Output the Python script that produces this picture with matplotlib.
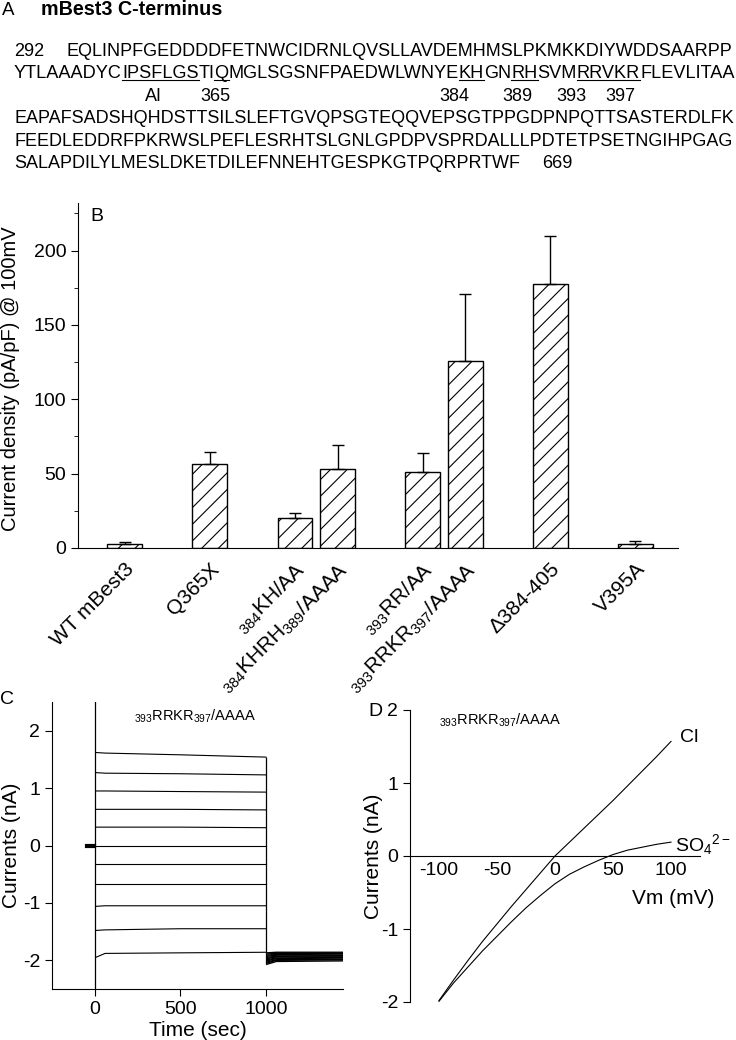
import matplotlib
matplotlib.use('Agg')
import matplotlib.pyplot as plt
from matplotlib.lines import Line2D
from matplotlib.ticker import MultipleLocator

plt.rcParams['font.family'] = ['Liberation Sans', 'DejaVu Sans']
plt.rcParams['mathtext.fontset'] = 'custom'
plt.rcParams['mathtext.rm'] = 'Liberation Sans'
plt.rcParams['mathtext.it'] = 'Liberation Sans:italic'
plt.rcParams['mathtext.default'] = 'regular'
plt.rcParams['axes.unicode_minus'] = False
plt.rcParams['hatch.linewidth'] = 0.8

# ---- panel A: sequence text
seq_title = "mBest3 C-terminus"
seq_first = "EQLINPFGEDDDDFETNWCIDRNLQVSLLAVDEMHMSLPKMKKDIYWDDSAARPP"
seq_second = [("YTLAAADYC", False), ("IPSFLGS", True), ("TI", False), ("Q", True),
              ("MGLSGSNFPAEDWLWNYE", False), ("KH", True), ("GN", False), ("RH", True),
              ("SVM", False), ("RRVKR", True), ("FLEVLITAA", False)]
site_labels = ["AI", "365", "384", "389", "393", "397"]
seq_rest = ["EAPAFSADSHQHDSTTSILSLEFTGVQPSGTEQQVEPSGTPPGDPNPQTTSASTERDLFK",
            "FEEDLEDDRFPKRWSLPEFLESRHTSLGNLGPDPVSPRDALLLPDTETPSETNGIHPGAG",
            "SALAPDILYLMESLDKETDILEFNNEHTGESPKGTPQRPRTWF"]
seq_start, seq_end = "292", "669"

# ---- panel B: current density
mutants = ["WT mBest3", "Q365X", r"$_{384}$KH/AA", r"$_{384}$KHRH$_{389}$/AAAA",
           r"$_{393}$RR/AA", r"$_{393}$RRKR$_{397}$/AAAA", "Δ384-405", "V395A"]
bar_pos = [0, 2, 4, 5, 7, 8, 10, 12]
density = [2.5, 56.5, 20.0, 53.0, 51.0, 126.0, 177.5, 2.5]
sem = [1.2, 8.0, 3.5, 16.5, 13.0, 45.0, 32.0, 2.2]

# ---- panel C: current traces (nA) during steps
trace_t = [5, 60, 500, 1000]
traces = [[1.62, 1.61, 1.58, 1.54],
          [1.27, 1.26, 1.25, 1.23],
          [0.95, 0.95, 0.94, 0.93],
          [0.63, 0.63, 0.63, 0.62],
          [0.32, 0.32, 0.32, 0.31],
          [0.00, 0.00, 0.00, 0.00],
          [-0.33, -0.33, -0.33, -0.33],
          [-0.67, -0.67, -0.67, -0.67],
          [-1.06, -1.05, -1.05, -1.05],
          [-1.48, -1.47, -1.45, -1.45],
          [-1.95, -1.88, -1.87, -1.86]]
tail_t = [1005, 1060, 1450]
tails = [[-1.87, -1.86, -1.86],
         [-1.89, -1.88, -1.88],
         [-1.91, -1.90, -1.89],
         [-1.93, -1.91, -1.91],
         [-1.95, -1.93, -1.92],
         [-1.97, -1.94, -1.94],
         [-1.99, -1.96, -1.95],
         [-2.01, -1.97, -1.96],
         [-2.03, -1.99, -1.98],
         [-2.05, -2.00, -1.99],
         [-2.07, -2.02, -2.01]]
hold_t = [-45, -5]
hold_i = [0.0, 0.0]
step_on, step_off = 0, 1000

# ---- panel D: I-V ramps
vm = [-100, -87.5, -75, -62.5, -50, -37.5, -25, -12.5, 0, 12.5, 25, 37.5, 50, 62.5, 75, 87.5, 100]
i_cl = [-1.98, -1.70, -1.43, -1.17, -0.93, -0.69, -0.46, -0.23, 0.0, 0.19, 0.38, 0.57, 0.76, 0.96, 1.16, 1.36, 1.57]
i_so4 = [-1.99, -1.74, -1.52, -1.30, -1.10, -0.90, -0.71, -0.54, -0.38, -0.25, -0.15, -0.06, 0.02, 0.08, 0.12, 0.16, 0.19]

W, H = 736, 1040
fig = plt.figure(figsize=(7.36, 10.4), dpi=100)
renderer = fig.canvas.get_renderer()


def fx(px):
    return px / W


def fy(py):
    return 1 - py / H


def fit_size(txt, width, fs=13.0):
    # font size that makes txt span the given pixel width
    t = fig.text(0, 0, txt, fontsize=fs)
    w = t.get_window_extent(renderer).width
    t.remove()
    return fs * width / w


# panel A
fig.text(fx(2), fy(15), "A", fontsize=13.5, va='baseline')
fig.text(fx(41), fy(15), seq_title, fontsize=14.2, fontweight='bold', va='baseline')

fs1 = fit_size(seq_first, 732 - 66)
fig.text(fx(14), fy(56), seq_start, fontsize=13, va='baseline')
fig.text(fx(66), fy(56), seq_first, fontsize=fs1, va='baseline')

fs2 = fit_size("".join(p for p, _ in seq_second), 732 - 14)
x = 14
for part, under in seq_second:
    t = fig.text(fx(x), fy(78), part, fontsize=fs2, va='baseline')
    bb = t.get_window_extent(renderer)
    if under:
        fig.add_artist(Line2D([fx(bb.x0), fx(bb.x1)], [fy(80), fy(80)],
                              transform=fig.transFigure, color='black', lw=0.8))
    x = bb.x1

site_x = [153, 215, 454, 517, 571, 620]
for lab, sx in zip(site_labels, site_x):
    fig.text(fx(sx), fy(101), lab, fontsize=13, va='baseline', ha='center')

for k, line in enumerate(seq_rest):
    yb = [123, 146, 168][k]
    if k < len(seq_rest) - 1:
        fig.text(fx(14), fy(yb), line, fontsize=fit_size(line, 732 - 14), va='baseline')
    else:
        t = fig.text(fx(14), fy(yb), line, fontsize=13, va='baseline')
        bb = t.get_window_extent(renderer)
        fig.text(fx(bb.x1 + 22), fy(yb), seq_end, fontsize=13, va='baseline')

# panel B
axB = fig.add_axes([fx(78), fy(548), fx(678) - fx(78), fy(203) - fy(548)])
axB.bar(bar_pos, density, width=0.82, color='white', edgecolor='black', lw=1.0,
        hatch='//', zorder=2)
axB.errorbar(bar_pos, density, yerr=[[0] * len(sem), sem], fmt='none', ecolor='black',
             elinewidth=1.0, capsize=4, capthick=1.0, zorder=3)
axB.set_xlim(-1.1, 13.0)
axB.set_ylim(0, 232)
axB.yaxis.set_major_locator(MultipleLocator(50))
axB.yaxis.set_minor_locator(MultipleLocator(25))
axB.set_xticks(bar_pos)
axB.set_xticklabels(mutants, rotation=45, ha='right', rotation_mode='anchor', fontsize=15)
axB.tick_params(axis='x', length=0, pad=8)
axB.tick_params(axis='y', which='major', length=5, labelsize=14)
axB.tick_params(axis='y', which='minor', length=3)
for s in ['top', 'right']:
    axB.spines[s].set_visible(False)
axB.set_ylabel("Current density (pA/pF) @ 100mV", fontsize=14.5)
axB.yaxis.set_label_coords(-0.097, 0.49)
axB.text(0.02, 0.96, "B", transform=axB.transAxes, fontsize=14, va='center')

# panel C
axC = fig.add_axes([fx(52), fy(989), fx(343) - fx(52), fy(702) - fy(989)])
for tr in traces:
    axC.plot(trace_t, tr, color='black', lw=0.8)
for tl in tails:
    axC.plot(tail_t, tl, color='black', lw=1.0)
axC.plot(hold_t, hold_i, color='black', lw=3)
axC.axvline(step_on, color='black', lw=0.9)
axC.vlines(step_off, min(min(t) for t in tails), max(t[-1] for t in traces),
           color='black', lw=0.9)
axC.set_xlim(-250, 1450)
axC.set_ylim(-2.5, 2.5)
axC.set_xticks([0, 500, 1000])
axC.set_yticks([-2, -1, 0, 1, 2])
axC.tick_params(labelsize=14, length=5)
for s in ['top', 'right']:
    axC.spines[s].set_visible(False)
axC.set_ylabel("Currents (nA)", fontsize=15)
axC.yaxis.set_label_coords(-0.105, 0.5)
axC.set_xlabel("Time (sec)", fontsize=15, labelpad=2)
axC.text(0.49, 0.95, r"$_{393}$RRKR$_{397}$/AAAA", transform=axC.transAxes,
         fontsize=10.5, ha='center', va='center')
fig.text(fx(0), fy(700), "C", fontsize=14, va='center')

# panel D
axD = fig.add_axes([fx(410), fy(1002), fx(700) - fx(410), fy(710) - fy(1002)])
axD.plot(vm, i_cl, color='black', lw=0.8)
axD.plot(vm, i_so4, color='black', lw=0.8)
axD.set_xlim(-125, 125)
axD.set_ylim(-2, 2)
axD.spines['bottom'].set_position(('data', 0))
for s in ['top', 'right']:
    axD.spines[s].set_visible(False)
axD.set_xticks([-100, -50, 0, 50, 100])
axD.set_yticks([-2, -1, 0, 1, 2])
axD.tick_params(axis='x', length=0, labelsize=14, pad=4)
axD.tick_params(axis='y', length=5, labelsize=14)
axD.set_ylabel("Currents (nA)", fontsize=15)
axD.yaxis.set_label_coords(-0.093, 0.5)
axD.text(0.907, 0.356, "Vm (mV)", transform=axD.transAxes, fontsize=15,
         ha='center', va='center')
axD.text(0.93, 0.905, "Cl", transform=axD.transAxes, fontsize=14, va='center')
axD.text(0.915, 0.54, r"SO$_4$$^{2-}$", transform=axD.transAxes, fontsize=14, va='center')
axD.text(0.10, 0.965, r"$_{393}$RRKR$_{397}$/AAAA", transform=axD.transAxes,
         fontsize=10.5, va='center')
fig.text(fx(368), fy(712), "D", fontsize=14, va='center')

fig.savefig("out.png", dpi=100)
